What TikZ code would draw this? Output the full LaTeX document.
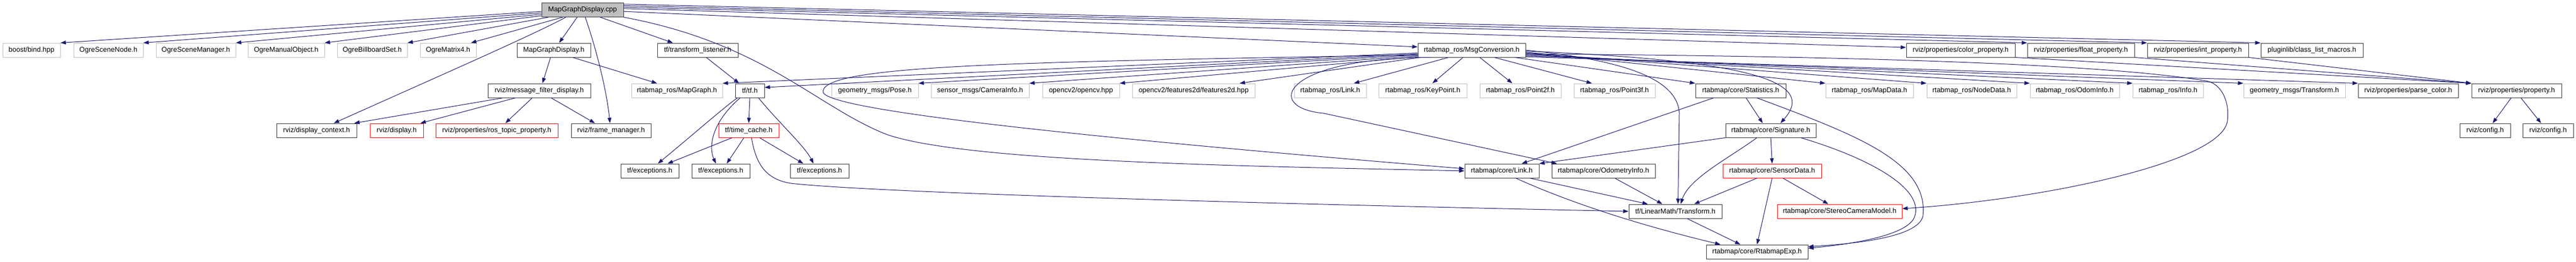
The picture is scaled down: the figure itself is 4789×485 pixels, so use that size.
\documentclass[tikz,border=0pt]{standalone}
\usepackage{fontspec}
\setmainfont{Liberation Sans}
\usetikzlibrary{arrows.meta}
\definecolor{midnightblue}{HTML}{191970}
\tikzset{
  file/.style={draw=black!80, line width=1pt, minimum height=26pt, inner sep=0pt, font=\fontsize{13}{15}\selectfont},
  ext/.style={file, draw=black!25},
  cut/.style={file, draw=red},
  root/.style={file, fill=black!25},
  dep/.style={draw=midnightblue, line width=1pt, -{Triangle[length=10pt,width=7pt]}}
}
\begin{document}
\begin{tikzpicture}[x=1pt,y=-1pt]
\useasboundingbox (0,0) rectangle (4789,485);
\node[root, minimum width=152] (cpp) at (1083,18.5) {MapGraphDisplay.cpp};
\node[ext, minimum width=107] (bind) at (58.5,93) {boost/bind.hpp};
\node[ext, minimum width=129] (scenenode) at (201.5,93) {OgreSceneNode.h};
\node[ext, minimum width=148] (scenemgr) at (364,93) {OgreSceneManager.h};
\node[ext, minimum width=142] (manual) at (532,93) {OgreManualObject.h};
\node[ext, minimum width=130] (billboard) at (692,93) {OgreBillboardSet.h};
\node[ext, minimum width=104] (matrix) at (833,93) {OgreMatrix4.h};
\node[file, minimum width=137] (mgdh) at (1029.5,93) {MapGraphDisplay.h};
\node[file, minimum width=150] (listener) at (1297,93) {tf/transform\_listener.h};
\node[file, minimum width=200] (msgconv) at (2736,93) {rtabmap\_ros/MsgConversion.h};
\node[file, minimum width=202] (colorprop) at (3645,93) {rviz/properties/color\_property.h};
\node[file, minimum width=199] (floatprop) at (3868.5,93) {rviz/properties/float\_property.h};
\node[file, minimum width=188] (intprop) at (4086,93) {rviz/properties/int\_property.h};
\node[file, minimum width=190] (plugin) at (4298,93) {pluginlib/class\_list\_macros.h};
\node[file, minimum width=191] (mfd) at (1002.5,168) {rviz/message\_filter\_display.h};
\node[ext, minimum width=169] (mapgraph) at (1258.5,168) {rtabmap\_ros/MapGraph.h};
\node[file, minimum width=54] (tf) at (1394,168) {tf/tf.h};
\node[ext, minimum width=161] (pose) at (1626.5,168) {geometry\_msgs/Pose.h};
\node[ext, minimum width=182] (caminfo) at (1822,168) {sensor\_msgs/CameraInfo.h};
\node[ext, minimum width=143] (opencv) at (2009.5,168) {opencv2/opencv.hpp};
\node[ext, minimum width=228] (features) at (2219,168) {opencv2/features2d/features2d.hpp};
\node[ext, minimum width=134] (roslink) at (2473,168) {rtabmap\_ros/Link.h};
\node[ext, minimum width=164] (keypoint) at (2645,168) {rtabmap\_ros/KeyPoint.h};
\node[ext, minimum width=151] (pointtwo) at (2826.5,168) {rtabmap\_ros/Point2f.h};
\node[ext, minimum width=151] (pointthree) at (3001.5,168) {rtabmap\_ros/Point3f.h};
\node[file, minimum width=168] (stats) at (3236,168) {rtabmap/core/Statistics.h};
\node[ext, minimum width=163] (mapdata) at (3475.5,168) {rtabmap\_ros/MapData.h};
\node[ext, minimum width=167] (nodedata) at (3665.5,168) {rtabmap\_ros/NodeData.h};
\node[ext, minimum width=166] (odominfo) at (3857,168) {rtabmap\_ros/OdomInfo.h};
\node[ext, minimum width=131] (info) at (4030.5,168) {rtabmap\_ros/Info.h};
\node[ext, minimum width=189] (geotf) at (4265.5,168) {geometry\_msgs/Transform.h};
\node[file, minimum width=186] (parsecolor) at (4477,168) {rviz/properties/parse\_color.h};
\node[file, minimum width=167] (property) at (4678.5,168) {rviz/properties/property.h};
\node[file, minimum width=149] (dispctx) at (588.5,242) {rviz/display\_context.h};
\node[cut, minimum width=99] (display) at (737.5,242) {rviz/display.h};
\node[cut, minimum width=227] (rostopic) at (923.5,242) {rviz/properties/ros\_topic\_property.h};
\node[file, minimum width=148] (framemgr) at (1136,242) {rviz/frame\_manager.h};
\node[cut, minimum width=112] (timecache) at (1392,242) {tf/time\_cache.h};
\node[file, minimum width=168] (signature) at (3292,242) {rtabmap/core/Signature.h};
\node[file, minimum width=94] (configa) at (4620,242) {rviz/config.h};
\node[file, minimum width=94] (configb) at (4737,242) {rviz/config.h};
\node[file, minimum width=108] (exca) at (1208,317) {tf/exceptions.h};
\node[file, minimum width=108] (excb) at (1340,317) {tf/exceptions.h};
\node[file, minimum width=109] (excc) at (1523.5,317) {tf/exceptions.h};
\node[file, minimum width=138] (corelink) at (2792,317) {rtabmap/core/Link.h};
\node[file, minimum width=192] (odometry) at (2981,317) {rtabmap/core/OdometryInfo.h};
\node[cut, minimum width=183] (sensor) at (3294.5,317) {rtabmap/core/SensorData.h};
\node[file, minimum width=173] (lmtf) at (3114.5,392) {tf/LinearMath/Transform.h};
\node[cut, minimum width=232] (stereo) at (3420,392) {rtabmap/core/StereoCameraModel.h};
\node[file, minimum width=189] (exp) at (3266.5,467) {rtabmap/core/RtabmapExp.h};

\draw[dep] (cpp.182) -- (bind.north east);
\draw[dep] (cpp.184) -- (scenenode.north east);
\draw[dep] (cpp.186) -- (scenemgr.north east);
\draw[dep] (cpp.188) -- (manual.north east);
\draw[dep] (cpp.192) -- (billboard.north east);
\draw[dep] (cpp.200) -- ([xshift=-10]matrix.north east);
\draw[dep] ([xshift=-31]cpp.south) .. controls (990,65) and (830,135) .. ([xshift=32]dispctx.north);
\draw[dep] ([xshift=-10]cpp.south) -- ([xshift=10]mgdh.north);
\draw[dep] ([xshift=5]cpp.south) .. controls (1110,95) and (1128,170) .. ([xshift=-2]framemgr.north);
\draw[dep] ([xshift=33]cpp.south) -- ([xshift=-46]listener.north);
\draw[dep] (cpp.358) -- ([yshift=6]msgconv.west);
\draw[dep] (cpp.2) -- ([yshift=5]colorprop.west);
\draw[dep] (cpp.4) -- (floatprop.north west);
\draw[dep] (cpp.6) -- (intprop.north west);
\draw[dep] (cpp.8) -- (plugin.north west);
\draw[dep] (cpp.350) .. controls (1420,80) and (1520,200) .. (1650,250) .. controls (1800,300) and (2300,308) .. (corelink.west);

\draw[dep] ([xshift=-6]mgdh.south) -- ([xshift=6]mfd.north);
\draw[dep] ([xshift=35]mgdh.south) -- ([xshift=-37]mapgraph.north);
\draw[dep] ([xshift=16]listener.south) -- ([xshift=-20]tf.north);

\draw[dep] ([xshift=-67]mfd.south) -- ([xshift=-5]dispctx.north east);
\draw[dep] ([xshift=-44]mfd.south) -- ([xshift=-6]display.north east);
\draw[dep] ([xshift=-13]mfd.south) -- ([xshift=16]rostopic.north);
\draw[dep] ([xshift=22]mfd.south) -- ([xshift=-30]framemgr.north);

\draw[dep] ([xshift=-23]tf.south) .. controls (1345,200) and (1300,240) .. ([xshift=15]exca.north);
\draw[dep] ([xshift=-18]tf.south) .. controls (1320,230) and (1318,275) .. ([xshift=-9]excb.north);
\draw[dep] (tf.south) -- (timecache.north);
\draw[dep] ([xshift=16]tf.south) .. controls (1450,230) and (1495,270) .. ([xshift=-11]excc.north);
\draw[dep] ([xshift=-31]timecache.south) -- ([xshift=33]exca.north);
\draw[dep] ([xshift=-9]timecache.south) -- ([xshift=11]excb.north);
\draw[dep] ([xshift=20]timecache.south) -- ([xshift=-30]excc.north);
\draw[dep] ([xshift=5]timecache.south) .. controls (1405,300) and (1420,332) .. (1470,340) .. controls (1600,355) and (2200,375) .. (lmtf.west);

\draw[dep] (msgconv.183) -- (mapgraph.north east);
\draw[dep] (msgconv.184) -- (tf.12);
\draw[dep] (msgconv.185) -- (pose.north east);
\draw[dep] (msgconv.186) -- (caminfo.north east);
\draw[dep] (msgconv.187) -- (opencv.north east);
\draw[dep] (msgconv.188) -- ([xshift=-29]features.north east);
\draw[dep] (msgconv.185) .. controls (1900,115) and (1530,120) .. (1530,170) .. controls (1530,210) and (2200,270) .. ([yshift=4]corelink.west);
\draw[dep] (msgconv.190) .. controls (2380,108) and (2350,200) .. (2460,210) -- ([xshift=10]odometry.north west);
\draw[dep] ([xshift=-43]msgconv.south) -- ([xshift=44]roslink.north);
\draw[dep] ([xshift=-16]msgconv.south) -- ([xshift=18]keypoint.north);
\draw[dep] ([xshift=15]msgconv.south) -- ([xshift=-15]pointtwo.north);
\draw[dep] ([xshift=42]msgconv.south) -- ([xshift=-42]pointthree.north);
\draw[dep] ([xshift=80]msgconv.south) -- (stats.north west);
\draw[dep] (msgconv.358) -- (mapdata.north west);
\draw[dep] (msgconv.357) -- (nodedata.north west);
\draw[dep] (msgconv.356) -- (odominfo.north west);
\draw[dep] (msgconv.355) -- (info.north west);
\draw[dep] (msgconv.354) -- (geotf.north west);
\draw[dep] (msgconv.353) -- (parsecolor.north west);
\draw[dep] (msgconv.359) .. controls (3250,112) and (3380,150) .. ([xshift=18]signature.north);
\draw[dep] (msgconv.east) .. controls (3000,110) and (3118,140) .. (3122,210) -- ([xshift=5]lmtf.north);
\draw[dep] (msgconv.356) .. controls (3600,105) and (3950,125) .. (4101,150) .. controls (4131,155) and (4145,190) .. (4141,223) .. controls (4135,300) and (3800,370) .. ([yshift=5]stereo.east);

\draw[dep] (colorprop.south east) -- (property.north west);
\draw[dep] (floatprop.south east) -- (property.north west);
\draw[dep] (intprop.south east) -- (property.north west);
\draw[dep] ([xshift=-10]property.south) -- ([xshift=14]configa.north);
\draw[dep] ([xshift=8]property.south) -- ([xshift=-13]configb.north);

\draw[dep] ([xshift=-50]stats.south) -- ([xshift=37]corelink.north);
\draw[dep] ([xshift=10]stats.south) -- ([xshift=-15]signature.north);
\draw[dep] ([xshift=30]stats.south) .. controls (3450,250) and (3585,300) .. (3575,400) .. controls (3568,440) and (3450,452) .. ([yshift=-4]exp.north east);
\draw[dep] (signature.south west) -- (corelink.north east);
\draw[dep] ([xshift=-26]signature.south) .. controls (3220,290) and (3140,330) .. ([xshift=10]lmtf.north);
\draw[dep] (signature.south) -- (sensor.north);
\draw[dep] ([xshift=56]signature.south) .. controls (3480,295) and (3575,350) .. (3560,400) .. controls (3550,440) and (3420,455) .. ([yshift=-7]exp.north east);
\draw[dep] ([xshift=-28]sensor.south) -- ([xshift=35]lmtf.north);
\draw[dep] ([xshift=20]sensor.south) -- ([xshift=-21]stereo.north);
\draw[dep] (sensor.south) -- (exp.north);
\draw[dep] ([xshift=52]corelink.south) -- ([xshift=-51]lmtf.north);
\draw[dep] ([xshift=26]corelink.south) .. controls (2950,390) and (3100,430) .. ([xshift=-68]exp.north);
\draw[dep] ([xshift=21]odometry.south) -- ([xshift=-24]lmtf.north);
\draw[dep] ([xshift=22]lmtf.south) -- ([xshift=-31]exp.north);
\end{tikzpicture}
\end{document}
